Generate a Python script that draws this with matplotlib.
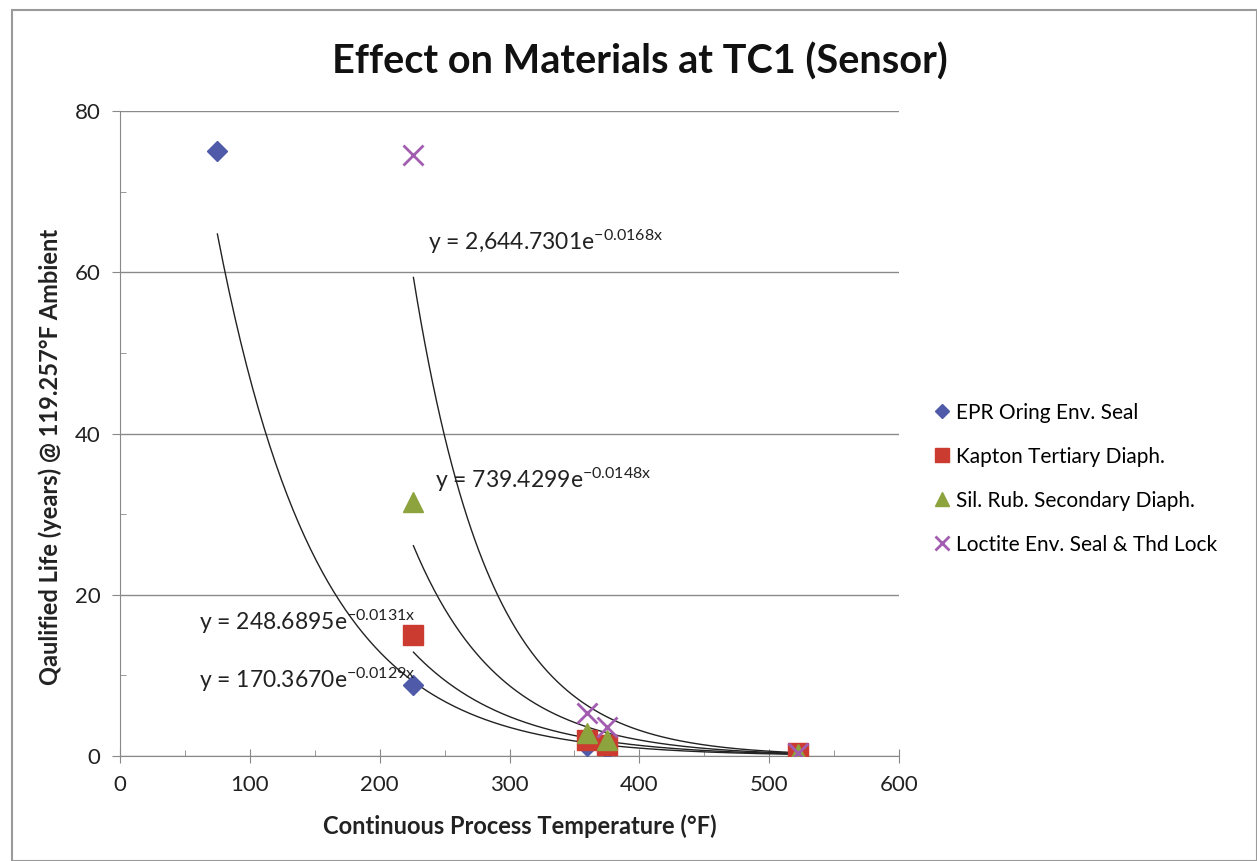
import numpy as np
import matplotlib
matplotlib.use("Agg")
import matplotlib.pyplot as plt
from matplotlib.patches import Rectangle

plt.rcParams['font.family'] = ['Lato', 'DejaVu Sans']
plt.rcParams['mathtext.default'] = 'regular'

# ---- data ----
temps_low = [75, 226, 360, 375, 522]
epr_life = [75.0, 8.8, 1.2, 0.9, 0.2]
temps = [226, 360, 375, 522]
kapton_life = [15.0, 2.0, 1.4, 0.4]
silrub_life = [31.5, 2.9, 2.0, 0.3]
loctite_life = [74.5, 5.3, 3.6, 0.4]

series_names = ["EPR Oring Env. Seal", "Kapton Tertiary Diaph.",
                "Sil. Rub. Secondary Diaph.", "Loctite Env. Seal & Thd Lock"]
# trendline coefficients y = a * exp(b x)
trend_a = [170.3670, 248.6895, 739.4299, 2644.7301]
trend_b = [-0.0129, -0.0131, -0.0148, -0.0168]
trend_labels = ["170.3670", "248.6895", "739.4299", "2,644.7301"]
trend_exp = ["-0.0129x", "-0.0131x", "-0.0148x", "-0.0168x"]
x_ticks = [0, 100, 200, 300, 400, 500, 600]
y_ticks = [0, 20, 40, 60, 80]

fig = plt.figure(figsize=(12.57, 8.61), dpi=100)
fig.patches.append(Rectangle((12/1257, 0), 1 - 12/1257, 1 - 10/861, transform=fig.transFigure,
                             fill=False, edgecolor='#9a9a9a', lw=1.5))
ax = fig.add_axes([120/1257, 1 - 756/861, (899 - 120)/1257, (756 - 111)/861])

xs_all = [temps_low, temps, temps, temps]
ys_all = [epr_life, kapton_life, silrub_life, loctite_life]

# trendlines
for xs, a, b in zip(xs_all, trend_a, trend_b):
    xx = np.linspace(min(xs), max(xs), 300)
    ax.plot(xx, a * np.exp(b * np.array(xx)), color='#222222', lw=1.0, zorder=2)

styles = [dict(marker='D', color='#4F5BA8', ms=10, ls='none'),
          dict(marker='s', color='#CC3B30', ms=14, ls='none'),
          dict(marker='^', color='#8DA33E', ms=14, ls='none'),
          dict(marker='x', color='#A35DB0', ms=14, mew=2, ls='none')]
for xs, ys, st, name in zip(xs_all, ys_all, styles, series_names):
    ax.plot(xs, ys, label=name, zorder=3, **st)

# equation labels
eq_pos = [(61, 9.4), (61, 16.6), (243, 34.2), (237, 63.8)]
for (px, py), lab, ex in zip(eq_pos, trend_labels, trend_exp):
    ax.text(px, py, "y = " + lab + "e$^{" + ex + "}$", fontsize=16.5, color='#222222',
            va='center', ha='left', zorder=4)

ax.set_xlim(0, 600)
ax.set_ylim(0, 80)
ax.set_xticks(x_ticks)
ax.set_yticks(y_ticks)
ax.set_xticks(np.arange(50, 600, 100), minor=True)
ax.set_yticks(np.arange(10, 80, 20), minor=True)
ax.tick_params(axis='both', which='major', labelsize=16, color='#888888', labelcolor='#222222')
ax.tick_params(axis='x', which='major', direction='inout', length=10, pad=9)
ax.tick_params(axis='y', which='major', direction='out', length=6, pad=8)
ax.tick_params(axis='both', which='minor', direction='in', length=4, color='#888888')
ax.grid(axis='y', which='major', color='#8a8a8a', lw=1)
ax.set_axisbelow(True)
for s in ['top', 'right']:
    ax.spines[s].set_visible(False)
for s in ['left', 'bottom']:
    ax.spines[s].set_color('#888888')

ax.set_xlabel("Continuous Process Temperature (°F)", fontsize=17, fontweight='bold', color='#222222')
ax.set_ylabel("Qaulified Life (years) @ 119.257°F Ambient", fontsize=17, fontweight='bold', color='#222222')
ax.xaxis.set_label_coords(0.513, -0.1085)
ax.yaxis.set_label_coords(-0.09, 0.464)
ax.xaxis.label.set_va('center')
ax.yaxis.label.set_va('center')

fig.text(640/1257, 1 - 62/861, "Effect on Materials at TC1 (Sensor)", fontsize=28.5, fontweight='bold',
         ha='center', va='center', color='#111111')

leg = ax.legend(loc='center left', bbox_to_anchor=(1.02, 0.43), frameon=False, fontsize=15,
                markerscale=0.75, handlelength=0.8, handletextpad=0.3, labelspacing=1.15)

fig.savefig("out.png", dpi=100)
